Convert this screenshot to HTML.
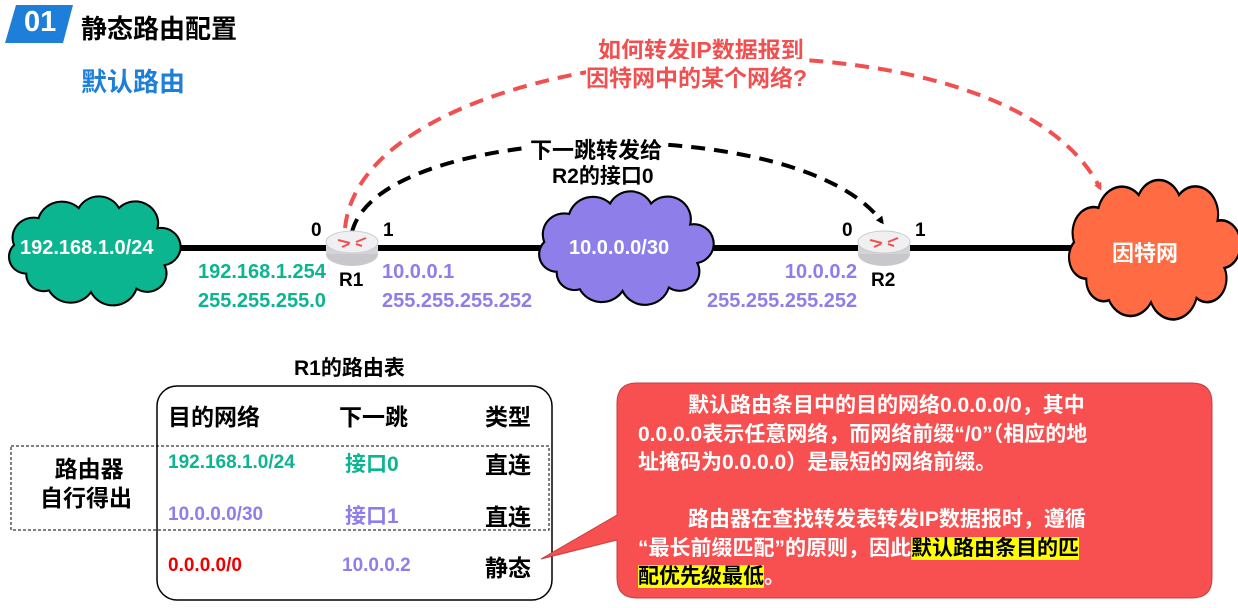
<!DOCTYPE html>
<html><head><meta charset="utf-8"><style>
body{margin:0;width:1238px;height:608px;background:#fff;overflow:hidden;position:relative;font-family:"Liberation Sans","Noto Sans CJK SC",sans-serif;font-weight:bold}
.t{position:absolute;white-space:nowrap}
</style></head><body>
<svg width="1238" height="608" style="position:absolute;left:0;top:0">
<defs>
<path id="cl" d="M15 45 A10 10 0 0 1 8 28 A12 12 0 0 1 22 12 A14 14 0 0 1 45 6 A13 13 0 0 1 68 6 A13 13 0 0 1 90 18 A10 10 0 0 1 94 40 A11 11 0 0 1 78 54 A14 14 0 0 1 52 56 A14 14 0 0 1 28 55 A10 10 0 0 1 15 45 Z"/>
<marker id="ar" markerWidth="8" markerHeight="8" refX="5" refY="4" orient="auto" markerUnits="userSpaceOnUse"><path d="M0 0 L8 4 L0 8Z" fill="#000"/></marker>
<marker id="ar2" markerWidth="8" markerHeight="8" refX="5" refY="4" orient="auto" markerUnits="userSpaceOnUse"><path d="M0 0 L8 4 L0 8Z" fill="#f05050"/></marker>
</defs>
<polygon points="16,5 73,5 63,43 5,43" fill="#1e7fd8"/>
<line x1="165" y1="248" x2="1080" y2="248" stroke="#000" stroke-width="6"/>
<g transform="translate(0,198) scale(1.75,1.68)"><use href="#cl" fill="#0ab58f" stroke="#000" stroke-width="1.2" vector-effect="non-scaling-stroke"/></g>
<g transform="translate(530,193) scale(1.78,1.75)"><use href="#cl" fill="#8d7eea" stroke="#000" stroke-width="1.2" vector-effect="non-scaling-stroke"/></g>
<g transform="translate(1060,182) scale(1.75,2.15)"><use href="#cl" fill="#ff6c43" stroke="#000" stroke-width="1.2" vector-effect="non-scaling-stroke"/></g>
<path d="M345,228 C 365,30 1000,-10 1100,188" fill="none" stroke="#f05050" stroke-width="4" stroke-dasharray="14,9" marker-end="url(#ar2)"/>
<path d="M352,232 C 380,120 800,110 882,222" fill="none" stroke="#000" stroke-width="4" stroke-dasharray="14,9" marker-end="url(#ar)"/>
<g id="r1"><ellipse cx="352" cy="254" rx="26" ry="12" fill="#c8c8cc"/><rect x="326" y="242" width="52" height="12" fill="#d4d4d8"/><ellipse cx="352" cy="242" rx="26" ry="11" fill="#f0f0f2" stroke="#ccc"/>
<path d="M338 240 L350 243 M366 238 L356 242 M342 247 L349 244 M362 246 L356 244" stroke="#f05050" stroke-width="2"/></g>
<g transform="translate(532,0)"><use href="#r1"/></g>
<rect x="157" y="386" width="395" height="214" rx="20" fill="none" stroke="#000" stroke-width="1.5"/>
<rect x="11" y="446" width="538" height="84" fill="none" stroke="#000" stroke-width="1" stroke-dasharray="3,2"/>
<path d="M637,383 H1192 Q1212,383 1212,403 V578 Q1212,598 1192,598 H637 Q617,598 617,578 V540 L541,559 L617,515 V403 Q617,383 637,383Z" fill="#f85050" stroke="#c04040"/>
</svg>
<div class="t" style="left:24px;top:6px;color:#fff;font-size:29px">01</div>
<div class="t" style="left:81px;top:9px;font-size:26px">静态路由配置</div>
<div class="t" style="left:81px;top:62px;font-size:26px;color:#1e7fd8">默认路由</div>
<div class="t" style="left:598px;top:31px;font-size:23px;color:#f05050;background:#fff">如何转发IP数据报到</div>
<div class="t" style="left:586px;top:59px;font-size:23px;color:#f05050;background:#fff">因特网中的某个网络?</div>
<div class="t" style="left:530px;top:133px;font-size:22px;background:#fff">下一跳转发给</div>
<div class="t" style="left:552px;top:160px;font-size:21px;background:#fff">R2的接口0</div>
<div class="t" style="left:20px;top:237px;font-size:20px;color:#fff">192.168.1.0/24</div>
<div class="t" style="left:569px;top:237px;font-size:20px;color:#fff">10.0.0.0/30</div>
<div class="t" style="left:1112px;top:236px;font-size:22px;color:#fff">因特网</div>
<div class="t" style="left:311px;top:220px;font-size:19px">0</div>
<div class="t" style="left:383px;top:220px;font-size:19px">1</div>
<div class="t" style="left:842px;top:220px;font-size:19px">0</div>
<div class="t" style="left:915px;top:220px;font-size:19px">1</div>
<div class="t" style="left:339px;top:270px;font-size:19px">R1</div>
<div class="t" style="left:871px;top:270px;font-size:19px">R2</div>
<div class="t" style="left:198px;top:258px;font-size:20px;color:#0ab58f;line-height:29px">192.168.1.254<br>255.255.255.0</div>
<div class="t" style="left:382px;top:258px;font-size:20px;color:#8d7eea;line-height:29px">10.0.0.1<br>255.255.255.252</div>
<div class="t" style="left:707px;top:258px;font-size:20px;color:#8d7eea;line-height:29px;text-align:right">10.0.0.2<br>255.255.255.252</div>
<div class="t" style="left:294px;top:352px;font-size:21px">R1的路由表</div>
<div class="t" style="left:168px;top:398px;font-size:23px">目的网络</div>
<div class="t" style="left:339px;top:398px;font-size:23px">下一跳</div>
<div class="t" style="left:485px;top:398px;font-size:23px">类型</div>
<div class="t" style="left:168px;top:452px;font-size:19px;color:#0ab58f">192.168.1.0/24</div>
<div class="t" style="left:345px;top:448px;font-size:21px;color:#0ab58f">接口0</div>
<div class="t" style="left:485px;top:446px;font-size:23px">直连</div>
<div class="t" style="left:168px;top:504px;font-size:19px;color:#8d7eea">10.0.0.0/30</div>
<div class="t" style="left:345px;top:500px;font-size:21px;color:#8d7eea">接口1</div>
<div class="t" style="left:485px;top:498px;font-size:23px">直连</div>
<div class="t" style="left:168px;top:555px;font-size:19px;color:#e00">0.0.0.0/0</div>
<div class="t" style="left:342px;top:555px;font-size:19px;color:#8d7eea">10.0.0.2</div>
<div class="t" style="left:485px;top:549px;font-size:23px">静态</div>
<div class="t" style="left:40px;top:455px;font-size:23px;text-align:center;line-height:29px">&nbsp;路由器<br>自行得出</div>
<div class="t" style="left:638px;top:392px;font-size:21px;color:#fff;line-height:28.5px">
<span style="padding-left:50px">默认路由条目中的目的网络0.0.0.0/0，其中</span><br>0.0.0.0表示任意网络，而网络前缀“/0”（相应的地<br>址掩码为0.0.0.0）是最短的网络前缀。<br><br>
<span style="padding-left:50px">路由器在查找转发表转发IP数据报时，遵循</span><br>“最长前缀匹配”的原则，因此<span style="background:#ff0;color:#000">默认路由条目的匹</span><br><span style="background:#ff0;color:#000">配优先级最低</span>。
</div>
</body></html>
